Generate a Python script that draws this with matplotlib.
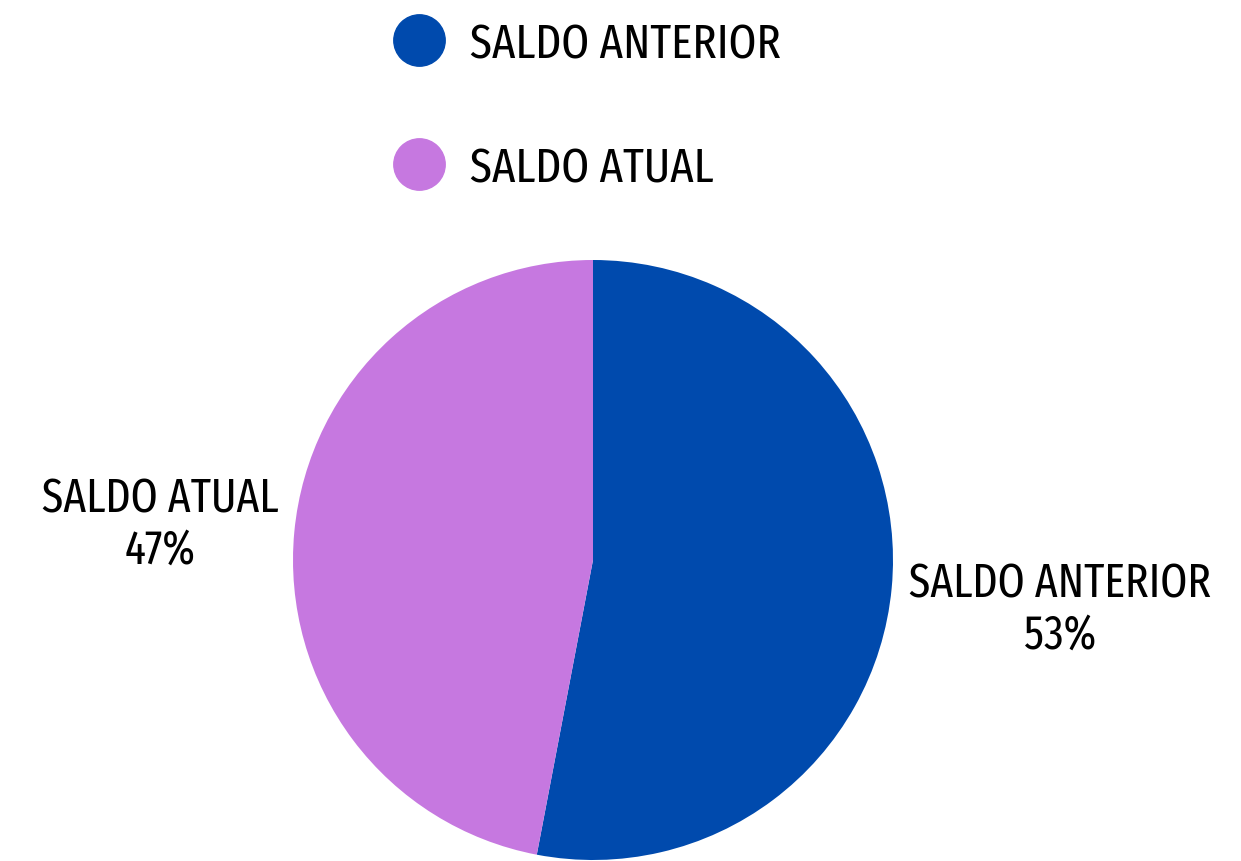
import matplotlib
matplotlib.use("Agg")
import matplotlib.pyplot as plt
from matplotlib.lines import Line2D

categories = ["SALDO ANTERIOR", "SALDO ATUAL"]
values = [53, 47]
colors = ["#004AAD", "#C678E0"]

W, H = 1241, 862
fig = plt.figure(figsize=(W / 100, H / 100), dpi=100)
ax = fig.add_axes([0, 0, 1, 1])
ax.set_xlim(0, W)
ax.set_ylim(0, H)
ax.set_aspect("equal")
ax.axis("off")

font = dict(family=["Fira Sans Extra Condensed", "Fira Sans Condensed", "DejaVu Sans"],
            weight=400)

cx, cy, r = 593, H - 561, 300
wedges, texts = ax.pie(values, colors=colors, startangle=90, counterclock=False,
                       center=(cx, cy), radius=r, labels=None,
                       wedgeprops=dict(linewidth=0))
ax.set_xlim(0, W)
ax.set_ylim(0, H)

label_pos = [(1060, H - 610), (160, H - 525)]
for cat, v, (lx, ly) in zip(categories, values, label_pos):
    ax.text(lx, ly, f"{cat}\n{v}%", ha="center", va="center", fontsize=34,
            linespacing=1.15, color="black", **font)

handles = [Line2D([], [], marker="o", linestyle="none", markersize=37,
                  markerfacecolor=c, markeredgecolor=c) for c in colors]
leg = ax.legend(handles, categories, loc="upper left",
                bbox_to_anchor=(356 / W, 1 + 12 / H), frameon=False,
                prop=dict(size=35, **font), labelspacing=1.6,
                handletextpad=0.45, handlelength=1.2, borderpad=0.2)
for t in leg.get_texts():
    t.set_color("black")

fig.savefig("out.png", dpi=100, facecolor="white")
